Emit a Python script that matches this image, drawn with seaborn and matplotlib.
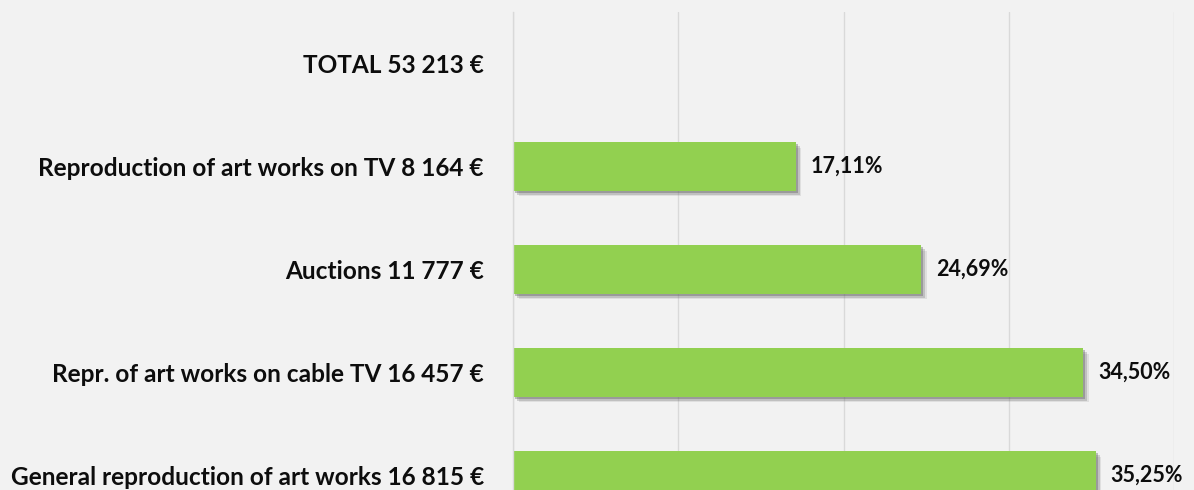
import pandas as pd
import matplotlib
matplotlib.use("Agg")
import matplotlib.pyplot as plt
import matplotlib.patheffects as pe
import seaborn as sns

# data
categories = [
    "TOTAL 53 213 €",
    "Reproduction of art works on TV 8 164 €",
    "Auctions 11 777 €",
    "Repr. of art works on cable TV 16 457 €",
    "General reproduction of art works 16 815 €",
]
shares = [0.0, 17.11, 24.69, 34.50, 35.25]
share_labels = ["", "17,11%", "24,69%", "34,50%", "35,25%"]

df = pd.DataFrame({"category": categories, "share": shares})

sns.set_theme(style="whitegrid")
plt.rcParams["font.family"] = ["Lato", "DejaVu Sans"]

bg = "#f2f2f2"
fig = plt.figure(figsize=(11.94, 4.90), dpi=100, facecolor=bg)
ax = fig.add_axes([513 / 1194, -37 / 490, 661 / 1194, 515 / 490])
ax.set_facecolor(bg)

sns.barplot(data=df, y="category", x="share", orient="h", color="#92d050",
            saturation=1, width=0.47, linewidth=0, edgecolor="none", ax=ax)

# soft drop shadow, built up from a few offset layers
for bar in ax.patches:
    bar.set_path_effects([
        pe.SimplePatchShadow(offset=(4, -4), shadow_rgbFace="#777777", alpha=0.15),
        pe.SimplePatchShadow(offset=(3, -3), shadow_rgbFace="#666666", alpha=0.25),
        pe.SimplePatchShadow(offset=(1.5, -1.5), shadow_rgbFace="#555555", alpha=0.35),
        pe.Normal(),
    ])

ax.bar_label(ax.containers[0], labels=share_labels, padding=11,
             fontsize=15.5, fontweight="bold", color="#0d0d0d")

ax.set_xlim(0, 40)
ax.set_xticks([0, 10, 20, 30, 40])
ax.set_ylim(4.5, -0.5)
ax.xaxis.grid(True, color="#d9d9d9", linewidth=1)
ax.yaxis.grid(False)
ax.tick_params(axis="x", length=0, labelbottom=False)
ax.tick_params(axis="y", length=0, pad=21)
for lbl in ax.get_yticklabels():
    lbl.set_fontsize(17.6)
    lbl.set_fontweight("bold")
    lbl.set_color("#0d0d0d")
ax.set_xlabel("")
ax.set_ylabel("")
for side in ["top", "right", "bottom"]:
    ax.spines[side].set_visible(False)
ax.spines["left"].set_color("#d9d9d9")
ax.spines["left"].set_linewidth(1)

fig.savefig("out.png", dpi=100, facecolor=bg)
